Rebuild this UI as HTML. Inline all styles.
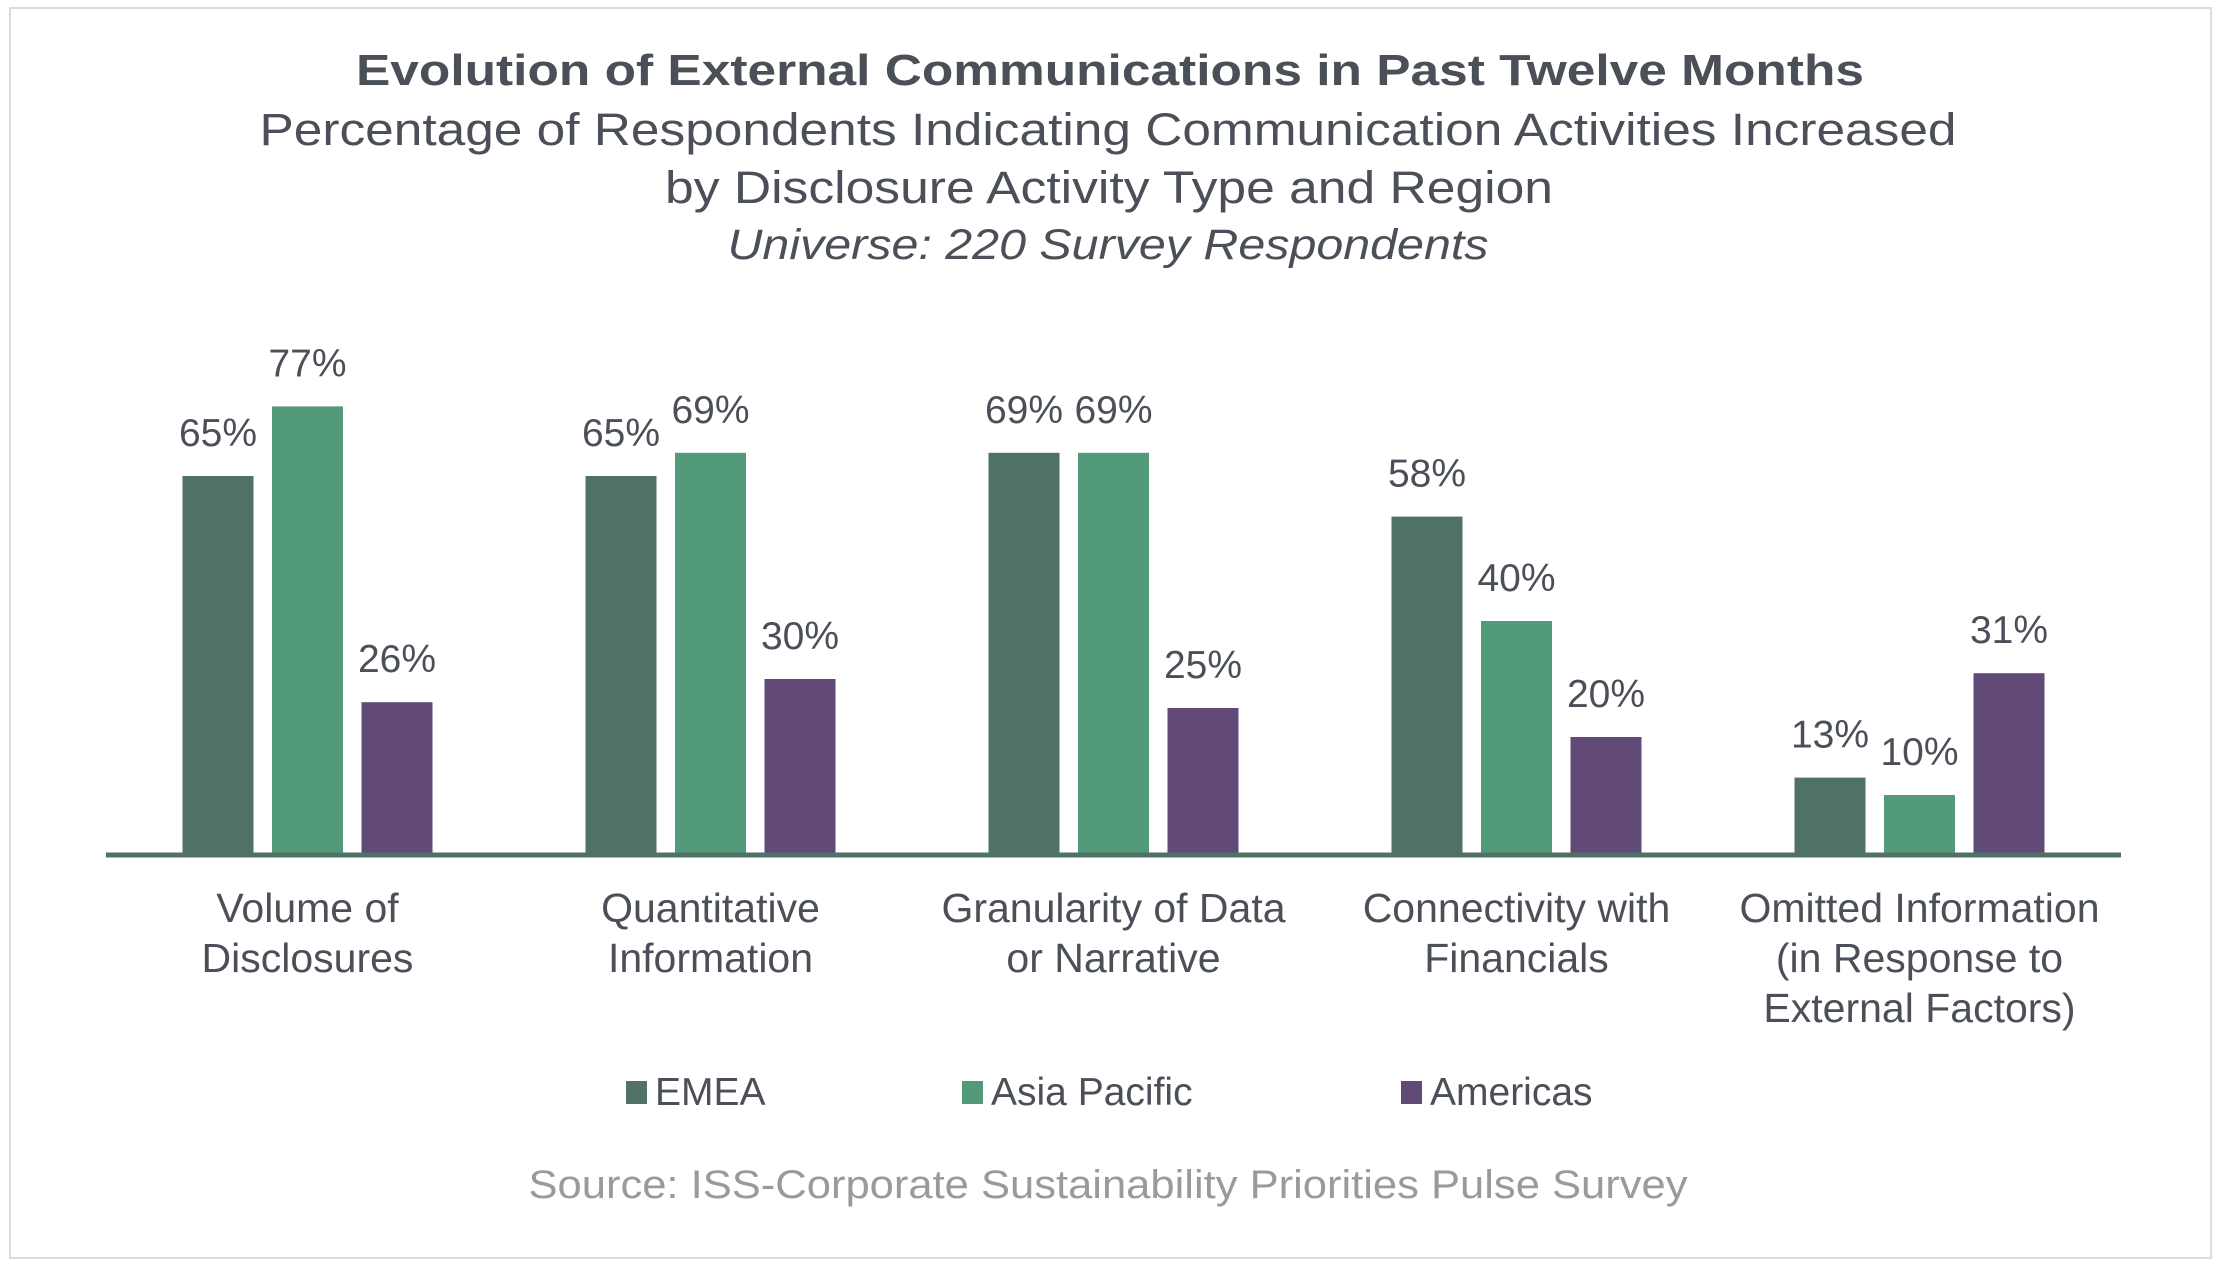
<!DOCTYPE html>
<html><head><meta charset="utf-8"><style>
html,body{margin:0;padding:0;background:#fff;}
svg{display:block;font-family:"Liberation Sans",sans-serif;}
</style></head><body>
<svg id="chart" width="2222" height="1265" viewBox="0 0 2222 1265">
<rect x="10" y="8" width="2201" height="1250" fill="#fff" stroke="#dcdcdc" stroke-width="2"/>
<text x="1110" y="85" text-anchor="middle" font-size="44" font-weight="bold" fill="#4b4f58" textLength="1508" lengthAdjust="spacingAndGlyphs">Evolution of External Communications in Past Twelve Months</text>
<text x="1108" y="145" text-anchor="middle" font-size="45" fill="#4b4f58" textLength="1697" lengthAdjust="spacingAndGlyphs">Percentage of Respondents Indicating Communication Activities Increased</text>
<text x="1109" y="203" text-anchor="middle" font-size="45" fill="#4b4f58" textLength="888" lengthAdjust="spacingAndGlyphs">by Disclosure Activity Type and Region</text>
<text x="1108" y="259" text-anchor="middle" font-size="43" font-style="italic" fill="#4b4f58" textLength="761" lengthAdjust="spacingAndGlyphs">Universe: 220 Survey Respondents</text>
<g id="bars"></g>
<g id="labels"></g>
<line x1="106" y1="855" x2="2121" y2="855" stroke="#507266" stroke-width="5"/>
<g id="cats"></g>
<g id="legend"></g>
<text x="1108" y="1198" text-anchor="middle" font-size="40" fill="#9a9a9a" textLength="1159" lengthAdjust="spacingAndGlyphs">Source: ISS-Corporate Sustainability Priorities Pulse Survey</text>
</svg>
<script>
const categories = [["Volume of","Disclosures"],["Quantitative","Information"],["Granularity of Data","or Narrative"],["Connectivity with","Financials"],["Omitted Information","(in Response to","External Factors)"]];
const seriesNames = ["EMEA","Asia Pacific","Americas"];
const emea = [65,65,69,58,13];
const asiaPacific = [77,69,69,40,10];
const americas = [26,30,25,20,31];
const colors = ["#507266","#529a7a","#614a78"];
const NS="http://www.w3.org/2000/svg";
const plotL=106, plotR=2121, base=853, pxPer=5.8;
const band=(plotR-plotL)/categories.length;
const barW=71, step=89.5;
function xCenter(i){return plotL+band*(i+0.5);}
function yVal(v){return base-v*pxPer;}
function mk(tag,attrs,parent){const e=document.createElementNS(NS,tag);for(const k in attrs)e.setAttribute(k,attrs[k]);parent.appendChild(e);return e;}
const all=[emea,asiaPacific,americas];
const gb=document.getElementById('bars'), gl=document.getElementById('labels'), gc=document.getElementById('cats'), gleg=document.getElementById('legend');
categories.forEach((c,i)=>{
  all.forEach((s,j)=>{
    const x=xCenter(i)+(j-1)*step-barW/2;
    const r=mk('rect',{x:x,y:yVal(s[i]),width:barW,height:base-yVal(s[i]),fill:colors[j]},gb);
    
    
    const t=mk('text',{x:x+barW/2,y:yVal(s[i])-30,'text-anchor':'middle','font-size':39,fill:'#4b4f58'},gl);
    t.textContent=s[i]+'%';
    
    
  });
  c.forEach((line,k)=>{
    const t=mk('text',{x:xCenter(i),y:922+k*50,'text-anchor':'middle','font-size':41,fill:'#4b4f58'},gc);
    t.textContent=line;
    
    
  });
});
const legX=[626,962,1401];
seriesNames.forEach((n,j)=>{
  const g=mk('g',{},gleg);
  
  
  mk('rect',{x:legX[j],y:1081,width:21,height:23,fill:colors[j]},g);
  const t=mk('text',{x:legX[j]+29,y:1105,'font-size':39,fill:'#4b4f58'},g);
  t.textContent=n;
});
</script>
</body></html>
